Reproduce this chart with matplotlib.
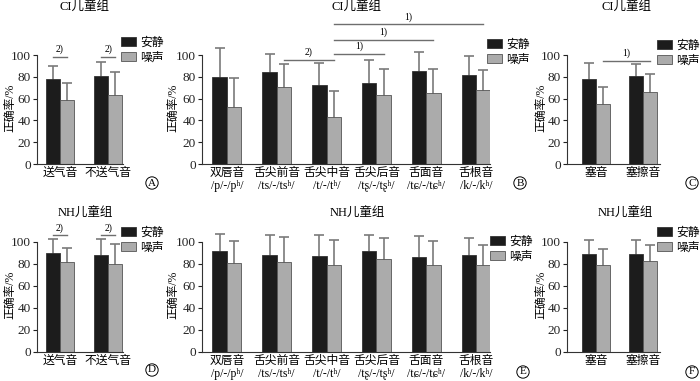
import matplotlib
matplotlib.use("Agg")
import matplotlib.pyplot as plt
from matplotlib.patches import Patch
import numpy as np

plt.rcParams['font.family'] = ['Liberation Serif', 'DejaVu Serif', 'Noto Sans CJK SC']
plt.rcParams['font.size'] = 9

W, H = 700, 381

# ── data (accuracy %, mean and SD) ──────────────────────────────────────────
cats_asp = ['送气音', '不送气音']
cats_place = ['双唇音\n/p/-/pʰ/', '舌尖前音\n/ts/-/tsʰ/', '舌尖中音\n/t/-/tʰ/',
              '舌尖后音\n/tʂ/-/tʂʰ/', '舌面音\n/tɕ/-/tɕʰ/', '舌根音\n/k/-/kʰ/']
cats_manner = ['塞音', '塞擦音']

ci_asp_quiet = [78, 81]
ci_asp_quiet_sd = [12, 13]
ci_asp_noise = [58.5, 63.5]
ci_asp_noise_sd = [16, 21]

ci_place_quiet = [79.5, 84, 72.5, 74, 85, 82]
ci_place_quiet_sd = [26.5, 16.5, 20, 21.5, 18, 17]
ci_place_noise = [52.5, 70.5, 43.5, 63.5, 65, 67.5]
ci_place_noise_sd = [26, 21, 23.5, 24, 22.5, 18.5]

ci_manner_quiet = [78, 81]
ci_manner_quiet_sd = [14.5, 10.5]
ci_manner_noise = [55.5, 66]
ci_manner_noise_sd = [15, 16.5]

nh_asp_quiet = [90, 88]
nh_asp_quiet_sd = [12.5, 14.5]
nh_asp_noise = [81.5, 80]
nh_asp_noise_sd = [13.5, 18]

nh_place_quiet = [92, 88, 87, 91.5, 86.5, 88]
nh_place_quiet_sd = [15, 18, 19.5, 15, 19, 15.5]
nh_place_noise = [80.5, 82, 79, 85, 79.5, 79.5]
nh_place_noise_sd = [20.5, 23, 22.5, 19, 21, 18]

nh_manner_quiet = [89, 89]
nh_manner_quiet_sd = [12.5, 13]
nh_manner_noise = [79.5, 82.5]
nh_manner_noise_sd = [14.5, 14.5]

BLACK = "#1c1c1c"
GREY = "#ababab"
ERR = "#7a7a7a"


def px_box(x0, x1, y0, y1):
    """axes rect from pixel coords (y0 = zero line, y1 = 100 line)."""
    return [x0 / W, 1 - y0 / H, (x1 - x0) / W, (y0 - y1) / H]


fig = plt.figure(figsize=(7.0, 3.81), dpi=100)

# (rect, xlim, bar width)
panels = {
    'A': (px_box(37, 123, 164, 55), (-0.479, 1.31), 0.29),
    'B': (px_box(202, 490, 164, 55), (-0.50, 5.28), 0.29),
    'C': (px_box(567, 660, 164, 55), (-0.617, 1.36), 0.30),
    'D': (px_box(37, 123, 352, 242), (-0.479, 1.31), 0.29),
    'E': (px_box(202, 490, 352, 242), (-0.50, 5.28), 0.29),
    'F': (px_box(567, 660, 352, 242), (-0.617, 1.36), 0.30),
}

data = {
    'A': (cats_asp, ci_asp_quiet, ci_asp_quiet_sd, ci_asp_noise, ci_asp_noise_sd),
    'B': (cats_place, ci_place_quiet, ci_place_quiet_sd, ci_place_noise, ci_place_noise_sd),
    'C': (cats_manner, ci_manner_quiet, ci_manner_quiet_sd, ci_manner_noise, ci_manner_noise_sd),
    'D': (cats_asp, nh_asp_quiet, nh_asp_quiet_sd, nh_asp_noise, nh_asp_noise_sd),
    'E': (cats_place, nh_place_quiet, nh_place_quiet_sd, nh_place_noise, nh_place_noise_sd),
    'F': (cats_manner, nh_manner_quiet, nh_manner_quiet_sd, nh_manner_noise, nh_manner_noise_sd),
}

axes = {}
for key, (rect, xlim, w) in panels.items():
    cats, q, qsd, n, nsd = data[key]
    ax = fig.add_axes(rect)
    x = np.arange(len(cats))
    ax.bar(x - w / 2, q, w, color=BLACK, edgecolor="#333333", linewidth=0.6, zorder=2)
    ax.bar(x + w / 2, n, w, color=GREY, edgecolor="#555555", linewidth=0.6, zorder=2)
    ax.errorbar(x - w / 2, q, yerr=qsd, fmt='none', ecolor=ERR, elinewidth=1.2,
                capsize=3.5, capthick=1.2, zorder=1, clip_on=False)
    ax.errorbar(x + w / 2, n, yerr=nsd, fmt='none', ecolor=ERR, elinewidth=1.2,
                capsize=3.5, capthick=1.2, zorder=1, clip_on=False)
    ax.set_xlim(*xlim)
    ax.set_ylim(0, 100)
    ax.set_yticks([0, 20, 40, 60, 80, 100])
    ax.set_xticks(x)
    ax.set_xticklabels(cats, linespacing=1.1, fontsize=8.5)
    ax.tick_params(axis='x', length=0, pad=2)
    ax.tick_params(axis='y', length=3, width=0.8, pad=1.5, colors="#222222",
                   labelsize=9.5)
    for s in ('top', 'right'):
        ax.spines[s].set_visible(False)
    for s in ('left', 'bottom'):
        ax.spines[s].set_color("#333333")
        ax.spines[s].set_linewidth(0.8)
    axes[key] = ax


def sig(ax, x0, x1, y, label):
    ax.plot([x0, x1], [y, y], color="#6e6e6e", lw=1.0, clip_on=False)
    ax.text((x0 + x1) / 2, y + 2.5, label, ha='center', va='bottom', fontsize=7,
            clip_on=False)


w = 0.29
for i in range(2):
    sig(axes['A'], i - w / 2, i + w / 2, 98, '2)')
    sig(axes['D'], i - w / 2, i + w / 2, 106, '2)')
sig(axes['B'], 1 + w / 2, 2 + w / 2, 95.5, '2)')
sig(axes['B'], 2 + w / 2, 3 + w / 2, 101, '1)')
sig(axes['B'], 2 + w / 2, 4 + w / 2, 114, '1)')
sig(axes['B'], 2 + w / 2, 5 + w / 2, 128, '1)')
sig(axes['C'], 0 + 0.15, 1 + 0.15, 94.5, '1)')

# titles
titles = [('CI儿童组', 85, 8), ('CI儿童组', 357, 8), ('CI儿童组', 627, 8),
          ('NH儿童组', 85, 214), ('NH儿童组', 357, 214), ('NH儿童组', 625, 214)]
for t, px, py in titles:
    fig.text(px / W, 1 - py / H, t, ha='center', va='center', fontsize=9)

# y labels
for px, py in [(10, 108), (173, 108), (541, 108), (10, 295), (173, 295), (541, 295)]:
    fig.text(px / W, 1 - py / H, '正确率/%', rotation=90, ha='center', va='center',
             fontsize=8.5)

# legends
handles = [Patch(facecolor=BLACK, edgecolor="#333333", linewidth=0.6),
           Patch(facecolor=GREY, edgecolor="#555555", linewidth=0.6)]
for px, py in [(121, 37), (487, 39), (657, 40), (121, 227), (490, 236), (657, 227)]:
    fig.legend(handles, ['安静', '噪声'], loc='upper left',
               bbox_to_anchor=(px / W, 1 - py / H), frameon=False, fontsize=8.5,
               borderpad=0, borderaxespad=0, handlelength=1.3, handleheight=0.8,
               handletextpad=0.3, labelspacing=0.2)

# panel letters
for letter, px, py in [('A', 152, 183), ('B', 520, 183), ('C', 692, 183),
                       ('D', 152, 370), ('E', 523, 372), ('F', 692, 372)]:
    fig.text(px / W, 1 - py / H, letter, ha='center', va='center', fontsize=8,
             bbox=dict(boxstyle='circle,pad=0.15', fc='white', ec='black', lw=0.7))

fig.savefig("out.png", dpi=100)
